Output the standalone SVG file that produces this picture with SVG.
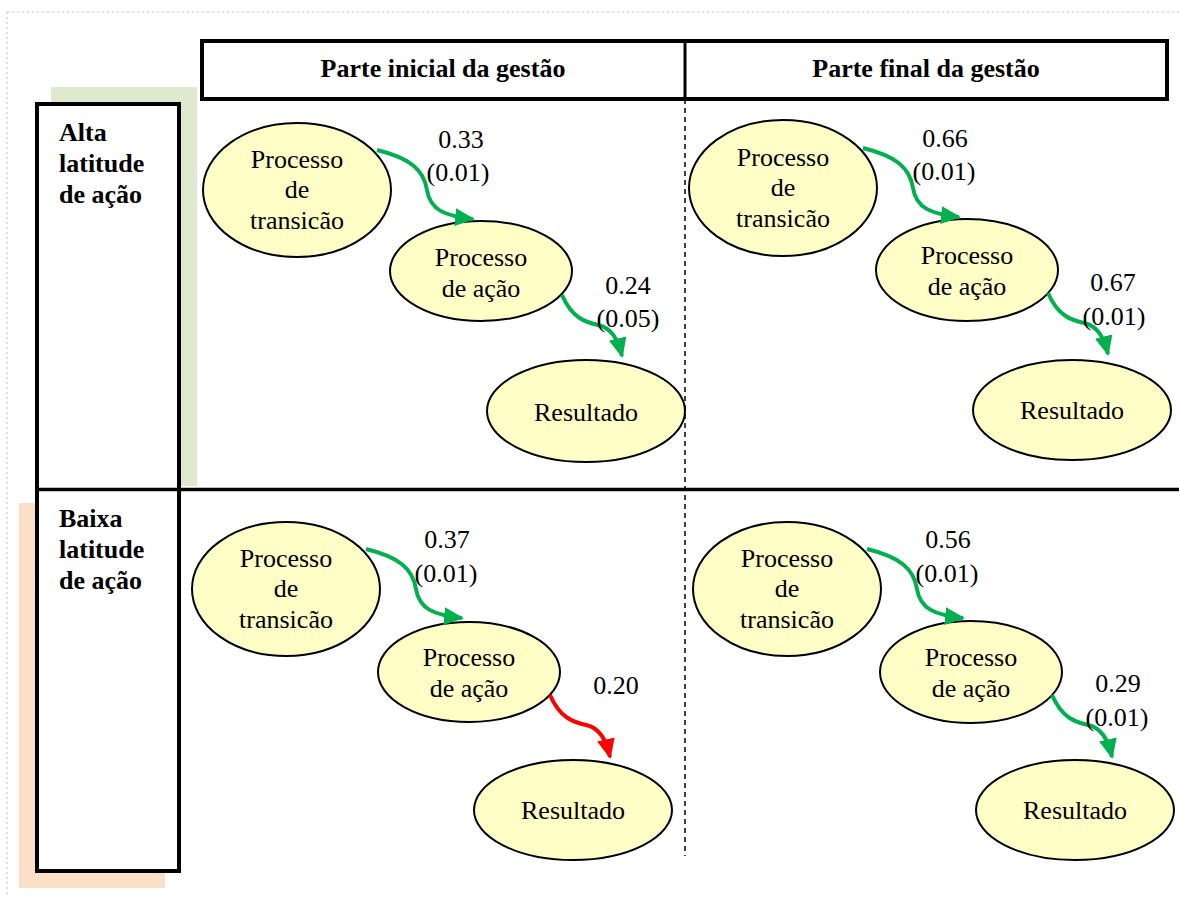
<svg xmlns="http://www.w3.org/2000/svg" width="1179" height="897" viewBox="0 0 1179 897">
  <style>
    text { font-family: "Liberation Serif", "Times New Roman", serif; font-size: 26px; fill: #000; }
    .hd { font-weight: bold; }
    .node ellipse { fill: #fefec6; stroke: #000; stroke-width: 2; }
    .node text { text-anchor: middle; }
    .lbl { text-anchor: middle; }
    .frame { fill: #fff; stroke: #000; stroke-width: 4; }
    .edge { fill: none; stroke-width: 4; }
    .pos { stroke: #00b050; }
    .neg { stroke: #ff0000; }
  </style>
  <defs>
    <marker id="arrowG" viewBox="0 0 20 18" refX="18" refY="9" markerWidth="20" markerHeight="18" markerUnits="userSpaceOnUse" orient="auto">
      <path d="M0,0 L20,9 L0,18 z" fill="#00b050"/>
    </marker>
    <marker id="arrowR" viewBox="0 0 20 18" refX="18" refY="9" markerWidth="20" markerHeight="18" markerUnits="userSpaceOnUse" orient="auto">
      <path d="M0,0 L20,9 L0,18 z" fill="#ff0000"/>
    </marker>
  </defs>

  <rect width="1179" height="897" fill="#fff"/>

  <!-- page border (dotted) -->
  <g stroke="#ccd6ea" stroke-width="1.5" stroke-dasharray="2,3" fill="none">
    <line x1="7" y1="12" x2="1179" y2="12"/>
    <line x1="7" y1="12" x2="7" y2="897"/>
  </g>

  <!-- shaded backdrops behind row headers -->
  <rect x="51" y="87" width="146" height="399" fill="#dfe9cf"/>
  <rect x="19" y="503" width="146" height="385" fill="#fbdfc6"/>

  <!-- table frame -->
  <g id="table">
    <rect class="frame" x="202" y="41" width="965" height="58"/>
    <line x1="685" y1="41" x2="685" y2="99" stroke="#000" stroke-width="3"/>
    <rect class="frame" x="37" y="104" width="142" height="767"/>
    <line x1="37" y1="489.5" x2="1179" y2="489.5" stroke="#000" stroke-width="3.5"/>
    <line x1="685" y1="99" x2="685" y2="856" stroke="#000" stroke-width="1.5" stroke-dasharray="5,4"/>
    <text class="hd" x="443" y="77" text-anchor="middle">Parte inicial da gestão</text>
    <text class="hd" x="926" y="77" text-anchor="middle">Parte final da gestão</text>
    <text class="hd" x="59" y="141">Alta</text>
    <text class="hd" x="59" y="172">latitude</text>
    <text class="hd" x="59" y="203">de ação</text>
    <text class="hd" x="59" y="527">Baixa</text>
    <text class="hd" x="59" y="558">latitude</text>
    <text class="hd" x="59" y="589">de ação</text>
  </g>

  <!-- upper-left quadrant -->
  <g id="tl-transicao" class="node">
    <ellipse cx="297" cy="190" rx="94" ry="67"/>
    <text x="297" y="168">Processo</text>
    <text x="297" y="198">de</text>
    <text x="297" y="229">transicão</text>
  </g>
  <g id="tl-acao" class="node">
    <ellipse cx="481" cy="271" rx="91" ry="50"/>
    <text x="481" y="266">Processo</text>
    <text x="481" y="297">de ação</text>
  </g>
  <g id="tl-resultado" class="node">
    <ellipse cx="586" cy="411" rx="99" ry="51"/>
    <text x="586" y="421">Resultado</text>
  </g>

  <!-- upper-right quadrant -->
  <g id="tr-transicao" class="node">
    <ellipse cx="783" cy="188" rx="94" ry="68"/>
    <text x="783" y="166">Processo</text>
    <text x="783" y="196">de</text>
    <text x="783" y="227">transicão</text>
  </g>
  <g id="tr-acao" class="node">
    <ellipse cx="967" cy="270" rx="91" ry="51"/>
    <text x="967" y="264">Processo</text>
    <text x="967" y="295">de ação</text>
  </g>
  <g id="tr-resultado" class="node">
    <ellipse cx="1072" cy="410" rx="99" ry="50"/>
    <text x="1072" y="419">Resultado</text>
  </g>

  <!-- lower-left quadrant -->
  <g id="bl-transicao" class="node">
    <ellipse cx="286" cy="589" rx="94" ry="67"/>
    <text x="286" y="567">Processo</text>
    <text x="286" y="597">de</text>
    <text x="286" y="628">transicão</text>
  </g>
  <g id="bl-acao" class="node">
    <ellipse cx="469" cy="672" rx="91" ry="50"/>
    <text x="469" y="666">Processo</text>
    <text x="469" y="697">de ação</text>
  </g>
  <g id="bl-resultado" class="node">
    <ellipse cx="573" cy="810" rx="99" ry="50"/>
    <text x="573" y="819">Resultado</text>
  </g>

  <!-- lower-right quadrant -->
  <g id="br-transicao" class="node">
    <ellipse cx="787" cy="589" rx="94" ry="67"/>
    <text x="787" y="567">Processo</text>
    <text x="787" y="597">de</text>
    <text x="787" y="628">transicão</text>
  </g>
  <g id="br-acao" class="node">
    <ellipse cx="971" cy="672" rx="91" ry="51"/>
    <text x="971" y="666">Processo</text>
    <text x="971" y="697">de ação</text>
  </g>
  <g id="br-resultado" class="node">
    <ellipse cx="1075" cy="810" rx="99" ry="50"/>
    <text x="1075" y="819">Resultado</text>
  </g>

  <!-- path coefficients -->
  <g id="connectors">
    <path class="edge pos" marker-end="url(#arrowG)" d="M377,150 C410,158 424,170 427,190 C430,210 445,216 473,219"/>
    <path class="edge pos" marker-end="url(#arrowG)" d="M562,295 C572,318 585,322 598,325 C612,328 618,340 622,356"/>
    <path class="edge pos" marker-end="url(#arrowG)" d="M863,148 C896,156 910,168 913,188 C916,208 931,214 959,217"/>
    <path class="edge pos" marker-end="url(#arrowG)" d="M1048,293 C1058,316 1071,320 1084,323 C1098,326 1104,338 1108,354"/>
    <path class="edge pos" marker-end="url(#arrowG)" d="M366,549 C399,557 413,569 416,589 C419,609 434,615 462,618"/>
    <path class="edge neg" marker-end="url(#arrowR)" d="M550,695 C560,718 573,722 586,725 C600,728 606,740 610,757"/>
    <path class="edge pos" marker-end="url(#arrowG)" d="M867,549 C900,557 914,569 917,589 C920,609 935,615 963,618"/>
    <path class="edge pos" marker-end="url(#arrowG)" d="M1052,695 C1062,718 1075,722 1088,725 C1102,728 1108,740 1112,757"/>

    <text class="lbl" x="461" y="148">0.33</text>
    <text class="lbl" x="458" y="181">(0.01)</text>
    <text class="lbl" x="628" y="294">0.24</text>
    <text class="lbl" x="628" y="327">(0.05)</text>
    <text class="lbl" x="945" y="147">0.66</text>
    <text class="lbl" x="944" y="180">(0.01)</text>
    <text class="lbl" x="1113" y="291">0.67</text>
    <text class="lbl" x="1114" y="325">(0.01)</text>
    <text class="lbl" x="447" y="548">0.37</text>
    <text class="lbl" x="446" y="582">(0.01)</text>
    <text class="lbl" x="616" y="694">0.20</text>
    <text class="lbl" x="948" y="548">0.56</text>
    <text class="lbl" x="947" y="582">(0.01)</text>
    <text class="lbl" x="1118" y="692">0.29</text>
    <text class="lbl" x="1117" y="726">(0.01)</text>
  </g>
</svg>
